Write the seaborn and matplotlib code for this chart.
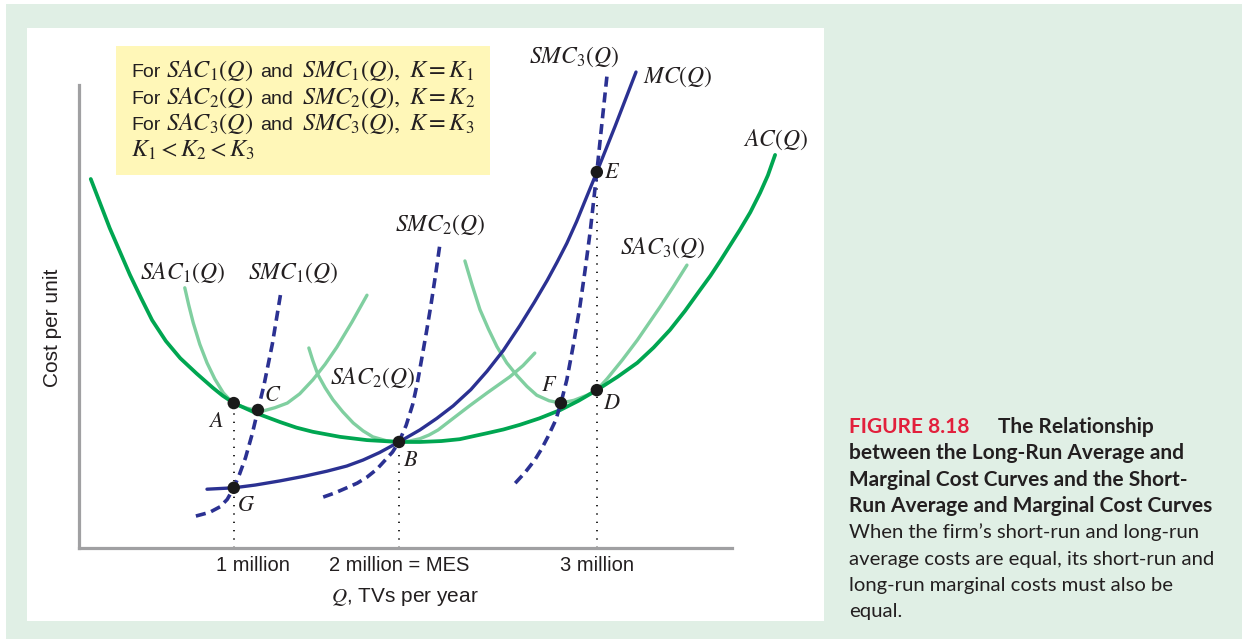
import matplotlib
matplotlib.use("Agg")
import matplotlib.pyplot as plt
from matplotlib.patches import Rectangle
from matplotlib.transforms import ScaledTranslation
import seaborn as sns

# ── Curves (schematic units: x = output Q, y = cost per unit) ──
AC_Q    = [0.18, 0.47, 0.78, 0.95, 1.12, 1.33, 1.55, 1.80, 2.05, 2.20, 2.37, 2.70,
           3.08, 3.33, 3.58, 4.00, 4.41, 4.90, 5.22, 5.55, 5.83, 6.25, 6.50, 6.75,
           7.05, 7.37, 7.65, 7.93, 8.25, 8.55, 8.80, 9.05, 9.28, 9.51, 9.67, 9.82,
           10.12, 10.28, 10.43, 10.55, 10.66]
AC_COST = [7.97, 6.91, 5.90, 5.40, 4.92, 4.47, 4.10, 3.77, 3.46, 3.29, 3.13, 2.92,
           2.72, 2.60, 2.51, 2.40, 2.33, 2.29, 2.29, 2.31, 2.35, 2.48, 2.56, 2.66,
           2.80, 2.98, 3.18, 3.41, 3.70, 4.00, 4.33, 4.71, 5.12, 5.57, 5.88, 6.20,
           6.87, 7.25, 7.67, 8.05, 8.49]

MC_Q    = [1.96, 2.37, 2.70, 3.08, 3.45, 3.80, 4.10, 4.35, 4.60, 4.90, 5.22, 5.48,
           5.73, 6.00, 6.25, 6.50, 6.75, 6.97, 7.17, 7.32, 7.47, 7.62, 7.75, 7.93,
           8.21, 8.53]
MC_COST = [1.27, 1.30, 1.36, 1.45, 1.55, 1.66, 1.77, 1.90, 2.06, 2.29, 2.55, 2.80,
           3.07, 3.42, 3.82, 4.27, 4.80, 5.30, 5.78, 6.17, 6.58, 7.05, 7.50, 8.12,
           9.11, 10.28]

SAC1_Q    = [1.62, 1.68, 1.75, 1.85, 1.96, 2.08, 2.21, 2.29, 2.37, 2.47, 2.57, 2.70,
             2.82, 3.00, 3.19, 3.38, 3.58, 3.77, 3.95, 4.18, 4.41]
SAC1_COST = [5.62, 5.25, 4.86, 4.40, 4.00, 3.65, 3.35, 3.23, 3.13, 3.07, 3.02, 2.98,
             2.96, 3.03, 3.13, 3.33, 3.63, 3.97, 4.34, 4.88, 5.46]

SAC2_Q    = [3.52, 3.58, 3.66, 3.77, 3.89, 4.04, 4.20, 4.35, 4.50, 4.70, 4.90, 5.06,
             5.22, 5.36, 5.50, 5.73, 5.98, 6.25, 6.42, 6.60, 6.80, 6.98]
SAC2_COST = [4.32, 4.05, 3.74, 3.46, 3.20, 2.94, 2.70, 2.53, 2.40, 2.32, 2.29, 2.31,
             2.36, 2.44, 2.55, 2.80, 3.07, 3.35, 3.52, 3.70, 3.94, 4.21]

SAC3_Q    = [5.91, 6.02, 6.14, 6.27, 6.40, 6.55, 6.71, 6.86, 7.01, 7.20, 7.38, 7.58,
             7.78, 7.93, 8.09, 8.32, 8.55, 8.72, 8.90, 9.10, 9.31]
SAC3_COST = [6.20, 5.68, 5.15, 4.73, 4.35, 4.00, 3.72, 3.49, 3.30, 3.18, 3.13, 3.19,
             3.30, 3.41, 3.66, 4.06, 4.49, 4.84, 5.21, 5.64, 6.11]

SMC1_Q    = [1.79, 2.00, 2.16, 2.27, 2.37, 2.46, 2.55, 2.65, 2.74, 2.83, 2.96, 3.09]
SMC1_COST = [0.69, 0.77, 0.89, 1.05, 1.30, 1.60, 1.95, 2.45, 2.98, 3.50, 4.40, 5.51]

SMC2_Q    = [3.74, 3.92, 4.10, 4.26, 4.41, 4.56, 4.69, 4.80, 4.90, 5.01, 5.11, 5.18,
             5.25, 5.32, 5.39, 5.46, 5.53]
SMC2_COST = [1.10, 1.19, 1.30, 1.40, 1.53, 1.70, 1.90, 2.07, 2.29, 2.65, 3.10, 3.55,
             4.10, 4.66, 5.25, 5.90, 6.59]

SMC3_Q    = [6.68, 6.83, 6.98, 7.08, 7.18, 7.30, 7.38, 7.47, 7.57, 7.67, 7.75, 7.83,
             7.93, 8.01, 8.09]
SMC3_COST = [1.40, 1.63, 1.90, 2.13, 2.40, 2.76, 3.13, 3.63, 4.38, 5.21, 6.00, 6.85,
             8.12, 9.20, 10.26]

# labelled points
PT_NAMES = ["A", "B", "C", "D", "E", "F", "G"]
PT_Q     = [2.37, 4.90, 2.74, 7.93, 7.93, 7.38, 2.37]
PT_COST  = [3.13, 2.29, 2.98, 3.41, 8.12, 3.13, 1.30]

# output levels marked on the Q axis (A, B, E dropped to the axis)
TICK_Q      = [2.37, 4.90, 7.93]
TICK_COST   = [3.13, 2.29, 8.12]
TICK_LABELS = ["1 million", "2 million = MES", "3 million"]

# ── Style ─────────────────────────────────────────────────────────────────────
BG          = "#e0efe5"
YELLOW      = "#fff7b8"
GREEN       = "#00a651"
LIGHT_GREEN = "#80cfa0"
NAVY        = "#2b3192"
AXIS_GRAY   = "#a0a0a2"
RED         = "#e2203c"
INK         = "#231f20"

W, H = 1242, 639

sns.set_theme(style="white")
plt.rcParams["font.family"] = ["Liberation Sans", "DejaVu Sans"]
plt.rcParams["mathtext.fontset"] = "stix"
plt.rcParams["text.color"] = INK

fig = plt.figure(figsize=(W / 100, H / 100), dpi=100)
fig.patch.set_facecolor("white")
renderer = fig.canvas.get_renderer()


def px_rect(x0, y0, x1, y1, color, z):
    fig.add_artist(Rectangle((x0 / W, 1 - y1 / H), (x1 - x0) / W, (y1 - y0) / H,
                             transform=fig.transFigure, facecolor=color,
                             edgecolor="none", zorder=z))


def draw_runs(x_px, y_px, runs):
    # place text pieces one after another on a common baseline
    x = x_px
    for txt, size, gap in runs:
        t = fig.text(x / W, 1 - y_px / H, txt, fontsize=size, va="baseline")
        x = t.get_window_extent(renderer).x1 + gap


px_rect(6, 4, W, H, BG, -30)
px_rect(27, 28, 824, 621, "white", -20)
px_rect(116, 46, 490, 175, YELLOW, -10)

# axes: 1 data unit = 65.3 px horizontally, 46.3 px vertically
ax = fig.add_axes([79 / W, 1 - 548 / H, 11 * 65.3 / W, 11 * 46.3 / H])
ax.patch.set_alpha(0)
ax.set_xlim(0, 11)
ax.set_ylim(0, 11)

sac_kw = dict(color=LIGHT_GREEN, lw=2.4, ax=ax, sort=False, estimator=None)
for q, c in [(SAC1_Q, SAC1_COST), (SAC2_Q, SAC2_COST), (SAC3_Q, SAC3_COST)]:
    sns.lineplot(x=q, y=c, zorder=2, **sac_kw)

sns.lineplot(x=AC_Q, y=AC_COST, color=GREEN, lw=2.7, ax=ax, sort=False,
             estimator=None, zorder=3)
sns.lineplot(x=MC_Q, y=MC_COST, color=NAVY, lw=2.4, ax=ax, sort=False,
             estimator=None, zorder=4)

smc_kw = dict(color=NAVY, lw=2.6, ax=ax, sort=False, estimator=None,
              linestyle=(0, (2.8, 1.6)))
for q, c in [(SMC1_Q, SMC1_COST), (SMC2_Q, SMC2_COST), (SMC3_Q, SMC3_COST)]:
    sns.lineplot(x=q, y=c, zorder=5, **smc_kw)

ax.vlines(TICK_Q, 0, TICK_COST, colors="black", lw=1.2,
          linestyles=(0, (0.8, 4.2)), zorder=1)

sns.scatterplot(x=PT_Q, y=PT_COST, color="#1a1a1a", s=80, edgecolor="none",
                ax=ax, zorder=6)

# point letters
pt_offsets = {"A": (-0.27, -0.39), "B": (0.18, -0.39), "C": (0.22, 0.32),
              "D": (0.23, -0.28), "E": (0.23, -0.02), "F": (-0.18, 0.39),
              "G": (0.19, -0.39)}
for name, q, c in zip(PT_NAMES, PT_Q, PT_COST):
    dx, dy = pt_offsets[name]
    ax.text(q + dx, c + dy, f"${name}$", fontsize=16, ha="center", va="center",
            zorder=7)

# curve labels
curve_labels = [
    (r"$SMC_3(Q)$", 7.59, 10.60, "center"),
    (r"$MC(Q)$",    8.64, 10.17, "left"),
    (r"$AC(Q)$",    10.66, 8.81, "center"),
    (r"$SMC_2(Q)$", 5.53, 6.98, "center"),
    (r"$SAC_3(Q)$", 8.93, 6.48, "center"),
    (r"$SAC_1(Q)$", 1.59, 5.94, "center"),
    (r"$SMC_1(Q)$", 3.28, 5.94, "center"),
    (r"$SAC_2(Q)$", 4.49, 3.67, "center"),
]
for txt, x, y, ha in curve_labels:
    ax.text(x, y, txt, fontsize=17, ha=ha, va="center", zorder=7)

# axes styling
sns.despine(ax=ax)
for side in ["left", "bottom"]:
    ax.spines[side].set_color(AXIS_GRAY)
    ax.spines[side].set_linewidth(2.3)
    ax.spines[side].set_bounds(0, 10)
ax.set_yticks([])
ax.set_xticks(TICK_Q)
ax.set_xticklabels(TICK_LABELS, fontsize=14.5, color=INK)
ax.tick_params(axis="x", length=0, pad=6)
lab0 = ax.get_xticklabels()[0]
lab0.set_transform(lab0.get_transform() + ScaledTranslation(0.19, 0, fig.dpi_scale_trans))
ax.set_xlabel("")
ax.set_ylabel("")

fig.text(405 / W, 1 - 597 / H, r"$Q$, TVs per year", fontsize=15,
         ha="center", va="center")
fig.text(52 / W, 1 - 328 / H, "Cost per unit", fontsize=15, rotation=90,
         ha="center", va="center")

# legend box text: sans words, larger italic math
SANS, MATH = 14, 17.5
for i, k in enumerate(["1", "2", "3"]):
    draw_runs(131, 77 + 26.5 * i, [
        ("For", SANS, 6),
        (rf"$SAC_{k}(Q)$", MATH, 6),
        ("and", SANS, 9),
        (rf"$SMC_{k}(Q),\ K = K_{k}$", MATH, 0),
    ])
draw_runs(131, 77 + 26.5 * 3, [(r"$K_1 < K_2 < K_3$", MATH, 0)])

# caption
cap_font = ["Lato", "DejaVu Sans"]
BOLD_FS, BODY_FS = 15.0, 14.6
fig.text(849 / W, 1 - 433 / H, "FIGURE 8.18", color=RED, fontsize=BOLD_FS,
         fontweight="bold", family=cap_font, va="baseline")
cap_lines = [
    ("The Relationship", "bold", 998),
    ("between the Long-Run Average and", "bold", 849),
    ("Marginal Cost Curves and the Short-", "bold", 849),
    ("Run Average and Marginal Cost Curves", "bold", 849),
    ("When the firm\u2019s short-run and long-run", "normal", 849),
    ("average costs are equal, its short-run and", "normal", 849),
    ("long-run marginal costs must also be", "normal", 849),
    ("equal.", "normal", 849),
]
for i, (line, weight, x0) in enumerate(cap_lines):
    fig.text(x0 / W, 1 - (433 + 26.3 * i) / H, line, color=INK,
             fontsize=BOLD_FS if weight == "bold" else BODY_FS,
             fontweight=weight, family=cap_font, va="baseline")

fig.savefig("out.png", dpi=100)
